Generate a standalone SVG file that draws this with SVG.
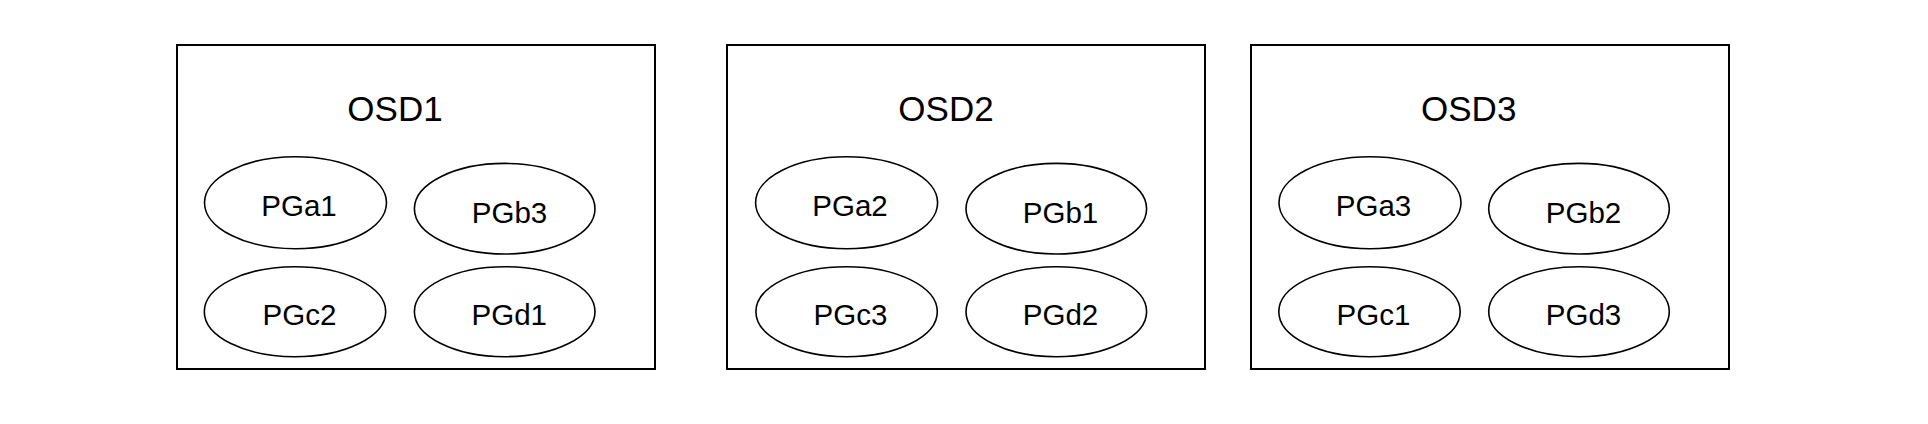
<svg xmlns="http://www.w3.org/2000/svg" width="1928" height="424" viewBox="0 0 1928 424">
<style>
.box{fill:#fff;stroke:#000;stroke-width:2}
.pg{fill:#fff;stroke:#000;stroke-width:1.6}
.t{font-family:"Liberation Sans",Arial,sans-serif;fill:#000;text-anchor:middle}
.osd{font-size:35px}
.pgt{font-size:29.5px}
</style>
<rect width="1928" height="424" fill="#fff"/>
<g id="osd1">
<rect class="box" x="177" y="45" width="478" height="324"/>
<text class="t osd" x="395" y="121">OSD1</text>
<g id="pga1"><ellipse class="pg" cx="295.5" cy="202.7" rx="91" ry="46"/><text class="t pgt" x="299" y="216">PGa1</text></g>
<g id="pgb3"><ellipse class="pg" cx="504.7" cy="208.7" rx="90.3" ry="45.3"/><text class="t pgt" x="509.5" y="222.7">PGb3</text></g>
<g id="pgc2"><ellipse class="pg" cx="295" cy="311.7" rx="90.7" ry="45"/><text class="t pgt" x="299.5" y="325">PGc2</text></g>
<g id="pgd1"><ellipse class="pg" cx="504.7" cy="311.7" rx="90.3" ry="45"/><text class="t pgt" x="509.3" y="325">PGd1</text></g>
</g>
<g id="osd2">
<rect class="box" x="727" y="45" width="478" height="324"/>
<text class="t osd" x="946" y="121">OSD2</text>
<g id="pga2"><ellipse class="pg" cx="846.6" cy="202.7" rx="91" ry="46"/><text class="t pgt" x="850" y="216">PGa2</text></g>
<g id="pgb1"><ellipse class="pg" cx="1056.3" cy="208.7" rx="90.3" ry="45.3"/><text class="t pgt" x="1060.5" y="222.7">PGb1</text></g>
<g id="pgc3"><ellipse class="pg" cx="846.6" cy="311.7" rx="90.7" ry="45"/><text class="t pgt" x="850.5" y="325">PGc3</text></g>
<g id="pgd2"><ellipse class="pg" cx="1056.3" cy="311.7" rx="90.3" ry="45"/><text class="t pgt" x="1060.5" y="325">PGd2</text></g>
</g>
<g id="osd3">
<rect class="box" x="1251" y="45" width="478" height="324"/>
<text class="t osd" x="1468.7" y="121">OSD3</text>
<g id="pga3"><ellipse class="pg" cx="1370" cy="202.7" rx="91" ry="46"/><text class="t pgt" x="1373.5" y="216">PGa3</text></g>
<g id="pgb2"><ellipse class="pg" cx="1579" cy="208.7" rx="90.3" ry="45.3"/><text class="t pgt" x="1583.5" y="222.7">PGb2</text></g>
<g id="pgc1"><ellipse class="pg" cx="1369.5" cy="311.7" rx="90.7" ry="45"/><text class="t pgt" x="1373.5" y="325">PGc1</text></g>
<g id="pgd3"><ellipse class="pg" cx="1579" cy="311.7" rx="90.3" ry="45"/><text class="t pgt" x="1583.5" y="325">PGd3</text></g>
</g>
<g id="connectors"></g>
</svg>
